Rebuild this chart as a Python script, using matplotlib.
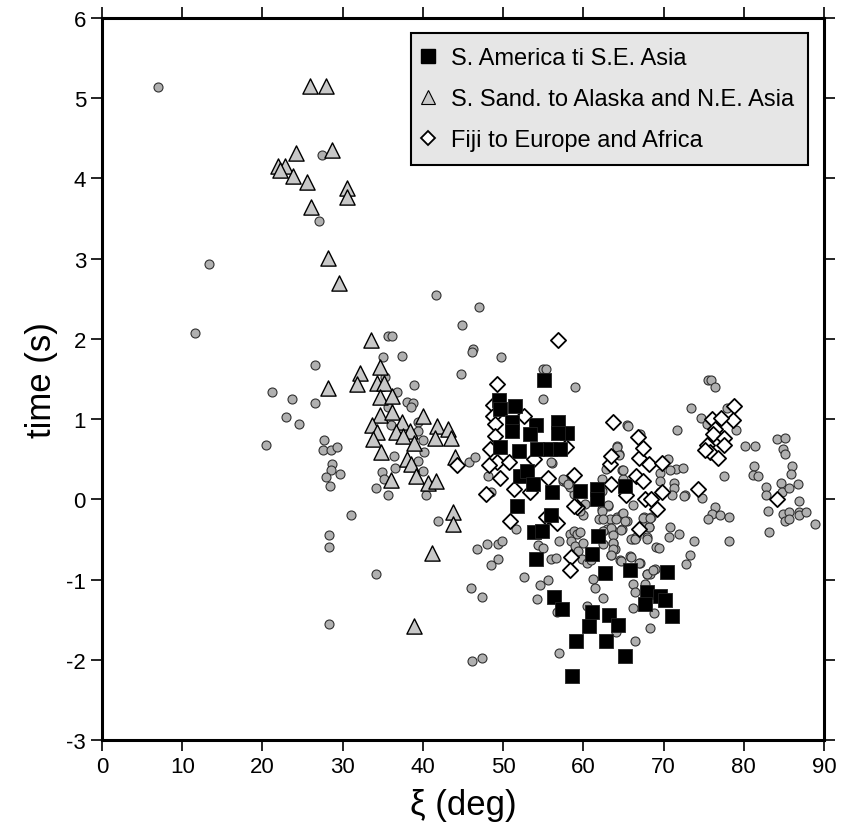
import matplotlib.pyplot as plt
from matplotlib.lines import Line2D

plt.rcParams['font.family'] = ['Liberation Sans', 'DejaVu Sans']
plt.rcParams['axes.unicode_minus'] = False

# grey background events (no legend entry)
dot_x = [7.0, 27.4, 27.0, 13.3, 11.6,
         41.6, 47.0, 44.9, 46.2, 46.1, 44.8, 35.7, 36.1, 35.0, 37.4, 26.6, 35.3, 38.9,
         21.2, 23.7, 26.6, 36.8, 38.0, 38.8, 38.5, 35.7, 23.0, 24.6, 36.0, 39.4, 39.4, 20.4,
         27.7, 27.6, 28.5, 29.3, 28.7, 28.5, 29.7, 27.9, 28.4, 36.4, 36.5, 40.0, 40.2, 39.4,
         40.0, 34.9, 35.2, 34.2, 40.4, 45.7, 46.5,
         41.9, 46.7, 48.0, 49.4, 49.9, 49.4, 48.5, 46.0, 47.4, 46.1, 47.4,
         52.6, 55.6, 54.6, 54.2, 57.0, 51.6, 54.4, 55.0, 56.0, 56.6, 57.0, 48.1, 56.1, 48.5,
         58.3, 58.8, 59.2, 58.5, 59.0, 59.6, 60.0, 59.4, 59.8, 60.4, 61.0, 60.0, 59.6, 60.2,
         58.8, 58.3, 57.5, 57.9, 62.3, 63.1, 64.2, 63.3, 62.9, 63.7, 64.8, 63.7, 63.9, 63.5,
         64.6, 65.8, 67.1, 66.2, 66.6, 67.9, 67.5, 68.2, 69.1, 67.6, 68.5, 62.1, 62.5, 62.0,
         61.2, 61.4, 62.5, 60.4, 56.7, 66.2, 66.4, 67.7, 67.9, 68.3, 68.9, 66.2, 68.8, 68.3,
         66.5, 64.1, 62.3, 64.8, 65.4, 56.0,
         55.0, 55.3, 59.0, 55.0, 49.8, 65.5, 64.2, 64.4, 62.3, 57.5, 58.1, 64.8, 65.0,
         75.5, 75.9, 76.4, 73.4, 74.7, 77.9, 79.0, 75.4, 71.7, 80.2, 81.4, 84.1, 85.1, 84.9,
         85.1, 81.3, 81.2, 81.8, 86.0, 85.9, 77.5, 82.8, 82.8, 84.7, 84.8, 85.7, 86.8, 86.9,
         83.0, 83.2, 84.9, 85.1, 85.7, 85.6, 86.9, 86.9, 87.8, 88.9, 76.4, 76.0, 77.0, 78.1,
         75.6, 78.2, 74.8, 72.7, 73.8, 73.3, 72.8, 71.9, 70.7, 70.8, 69.4, 68.0, 68.2, 67.5,
         68.3, 65.6, 67.1, 64.2, 64.4, 62.8, 64.9, 69.6, 70.6, 71.6, 72.4, 70.8, 69.5, 71.3,
         71.3, 71.0, 72.6, 69.5, 63.1, 62.3, 64.1, 65.0, 65.2, 66.2, 63.4, 64.7, 63.7, 66.0,
         66.4, 63.7, 63.7, 63.5, 64.7, 65.9, 67.0, 67.9, 68.7, 62.5, 62.4,
         31.0, 28.3, 28.3, 28.3, 34.2, 35.7]
dot_y = [5.14, 4.29, 3.47, 2.93, 2.07,
         2.55, 2.40, 2.17, 1.88, 1.84, 1.56, 2.04, 2.04, 1.77, 1.79, 1.67, 1.52, 1.43,
         1.34, 1.25, 1.20, 1.34, 1.21, 1.20, 1.15, 1.15, 1.03, 0.94, 0.93, 0.96, 0.85, 0.68,
         0.74, 0.61, 0.61, 0.65, 0.44, 0.37, 0.32, 0.28, 0.17, 0.54, 0.39, 0.74, 0.59, 0.48,
         0.35, 0.34, 0.25, 0.14, 0.05, 0.46, 0.53,
         -0.27, -0.62, -0.56, -0.56, -0.52, -0.74, -0.82, -1.10, -1.22, -2.01, -1.98,
         -0.97, -1.00, -1.07, -1.24, -1.91, -0.37, -0.57, -0.61, -0.74, -0.73, -0.52, 0.29, 0.45, 0.09,
         -0.43, -0.39, -0.43, -0.52, -0.58, -0.41, -0.54, -0.64, -0.74, -0.79, -0.76, -0.20, -0.14, -0.06,
         0.07, 0.15, 0.23, 0.21, -0.12, -0.08, -0.22, -0.24, -0.37, -0.39, -0.37, -0.54, -0.62, -0.70,
         -0.76, -0.71, -0.79, -0.49, -0.47, -0.47, -0.33, -0.34, -0.60, -0.22, -0.22, -0.47, -0.56, -0.24,
         -0.99, -1.10, -1.23, -1.33, -1.41, -1.06, -1.16, -1.06, -0.93, -0.93, -0.87, -1.35, -1.42, -1.60,
         -1.77, -1.66, 0.11, -0.18, -0.27, 0.46,
         1.62, 1.62, 1.40, 1.25, 1.78, 0.93, 0.66, 0.56, 0.25, 0.25, 0.19, 0.36, 0.25,
         1.49, 1.49, 1.40, 1.14, 1.01, 1.14, 0.86, 0.94, 0.86, 0.67, 0.66, 0.75, 0.77, 0.63,
         0.56, 0.41, 0.30, 0.29, 0.42, 0.32, 0.29, 0.15, 0.05, 0.20, 0.09, 0.14, 0.19, -0.02,
         -0.14, -0.41, -0.18, -0.27, -0.16, -0.25, -0.16, -0.20, -0.16, -0.31, -0.09, -0.18, -0.19, -0.22,
         -0.25, -0.52, 0.02, 0.06, -0.52, -0.69, -0.81, -0.43, -0.47, -0.34, -0.61, -0.49, -0.34, -0.23,
         -0.23, 0.92, 0.82, 0.65, 0.55, 0.38, 0.37, 0.33, 0.50, 0.38, 0.39, 0.36, 0.23, 0.20,
         0.14, 0.05, 0.04, 0.09, -0.07, -0.14, -0.24, -0.17, -0.27, -0.07, -0.36, -0.38, -0.45, -0.49,
         -0.50, -0.54, -0.62, -0.69, -0.77, -0.72, -0.79, -0.93, -0.88, -0.39, -0.25,
         -0.20, -0.45, -0.60, -1.55, -0.93, 0.05]

# S. America to S.E. Asia
sq_x = [55.1, 49.5, 49.6, 51.5, 51.1, 51.1, 54.1, 53.4, 56.8, 58.0, 56.8, 49.6, 52.0, 54.2,
        55.8, 57.1, 52.1, 53.0, 53.7, 56.1, 59.6, 61.7, 61.7, 65.2,
        51.7, 56.0, 53.9, 54.8, 61.8, 61.1, 54.1, 62.7, 65.8, 56.3, 57.3, 61.1, 63.2, 64.3,
        60.7, 59.1, 62.8, 65.2, 58.6, 70.4, 67.9, 67.7, 69.5, 70.2, 71.0]
sq_y = [1.49, 1.24, 1.13, 1.16, 0.96, 0.85, 0.93, 0.81, 0.96, 0.83, 0.83, 0.65, 0.60, 0.63,
        0.63, 0.63, 0.29, 0.35, 0.19, 0.09, 0.10, 0.13, 0.00, 0.17,
        -0.08, -0.20, -0.41, -0.39, -0.46, -0.68, -0.74, -0.92, -0.88, -1.22, -1.37, -1.41, -1.44, -1.57,
        -1.58, -1.77, -1.76, -1.95, -2.20, -0.90, -1.16, -1.31, -1.20, -1.25, -1.45]

# S. Sand. to Alaska and N.E. Asia
tri_x = [25.9, 27.9, 28.7, 24.2, 21.9, 22.8, 22.2, 23.8, 25.6, 26.0, 30.5, 30.5, 28.2, 29.5,
         33.5, 34.7, 32.2, 31.8, 28.2, 34.3, 35.1, 34.7, 36.2, 34.6, 36.1, 33.7, 37.4, 40.0,
         34.3, 36.7, 38.4, 33.8, 37.5, 38.9, 41.8, 43.1, 41.5, 43.5, 34.8, 38.0, 38.5, 36.0,
         39.1, 40.6, 41.6, 44.0, 43.8, 43.8, 41.1, 38.9]
tri_y = [5.15, 5.15, 4.35, 4.32, 4.16, 4.15, 4.10, 4.03, 3.96, 3.65, 3.88, 3.77, 3.01, 2.70,
         1.99, 1.65, 1.57, 1.44, 1.39, 1.45, 1.45, 1.28, 1.29, 1.05, 1.09, 0.93, 0.96, 1.04,
         0.84, 0.84, 0.85, 0.75, 0.79, 0.70, 0.91, 0.88, 0.77, 0.77, 0.59, 0.50, 0.44, 0.24,
         0.29, 0.20, 0.23, 0.53, -0.16, -0.31, -0.67, -1.58]

# Fiji to Europe and Africa
dia_x = [56.9, 49.2, 48.8, 48.8, 52.6, 49.0, 49.0, 63.7, 48.4, 57.9, 44.3, 49.2, 50.7, 48.3,
         53.8, 49.6, 51.3, 55.6, 58.8, 63.3, 63.5, 47.9, 53.4, 50.9, 56.7, 55.4, 59.2, 58.5,
         58.4, 65.3, 66.9, 68.2, 66.6, 67.4, 67.7, 68.5, 69.2, 66.9, 58.8,
         78.8, 78.7, 76.1, 77.2, 76.4, 76.2, 77.5, 75.4, 77.5, 75.8, 76.8, 75.2, 74.3, 84.2,
         66.8, 67.5, 69.8, 63.4, 69.8]
dia_y = [1.99, 1.44, 1.17, 1.04, 1.04, 0.94, 0.79, 0.97, 0.63, 0.65, 0.43, 0.47, 0.46, 0.43,
         0.50, 0.27, 0.13, 0.26, 0.30, 0.44, 0.19, 0.07, 0.09, -0.27, -0.29, -0.22, -0.10, -0.72,
         -0.88, 0.05, 0.52, 0.44, 0.29, 0.23, 0.00, 0.00, -0.12, -0.37, -0.08,
         1.16, 0.99, 1.00, 1.01, 0.88, 0.81, 0.77, 0.68, 0.68, 0.59, 0.52, 0.61, 0.13, 0.00,
         0.78, 0.64, 0.45, 0.54, 0.09]

fig = plt.figure(figsize=(8.42, 8.37), dpi=100)
ax = fig.add_axes([0.1211, 0.1147, 0.8575, 0.8626])

ax.scatter(dot_x, dot_y, s=42, marker='o', facecolor='#b0b0b0', edgecolor='#303030', linewidths=0.8, zorder=2)
ax.scatter(tri_x, tri_y, s=120, marker='^', facecolor='#c8c8c8', edgecolor='black', linewidths=1.0, zorder=3)
ax.scatter(dia_x, dia_y, s=60, marker='D', facecolor='white', edgecolor='black', linewidths=1.3, zorder=4)
ax.scatter(sq_x, sq_y, s=110, marker='s', facecolor='black', edgecolor='#222222', linewidths=0.6, zorder=5)

ax.set_xlim(0, 90)
ax.set_ylim(-3, 6)
ax.set_xticks(range(0, 91, 10))
ax.set_yticks(range(-3, 7))
ax.tick_params(which='both', direction='out', length=8, width=1.2, labelsize=16,
               top=True, right=True, labeltop=False, labelright=False)
for sp in ax.spines.values():
    sp.set_linewidth(2.2)

ax.set_xlabel('ξ (deg)', fontsize=25, labelpad=8)
ax.set_ylabel('time (s)', fontsize=25, labelpad=6)

handles = [
    Line2D([], [], ls='none', marker='s', ms=10, mfc='black', mec='black', label='S. America ti S.E. Asia'),
    Line2D([], [], ls='none', marker='^', ms=10, mfc='#c8c8c8', mec='black', mew=0.8, label='S. Sand. to Alaska and N.E. Asia'),
    Line2D([], [], ls='none', marker='D', ms=7, mfc='white', mec='black', mew=1.3, label='Fiji to Europe and Africa'),
]
leg = ax.legend(handles=handles, loc='upper right', bbox_to_anchor=(0.978, 0.979), borderaxespad=0,
                fontsize=17, fancybox=False, framealpha=1, facecolor='#e6e6e6', edgecolor='black',
                handlelength=0.3, handletextpad=0.8, labelspacing=0.8, borderpad=0.6)
leg.get_frame().set_linewidth(1.5)
leg.set_zorder(10)

fig.savefig('out.png', dpi=100)
